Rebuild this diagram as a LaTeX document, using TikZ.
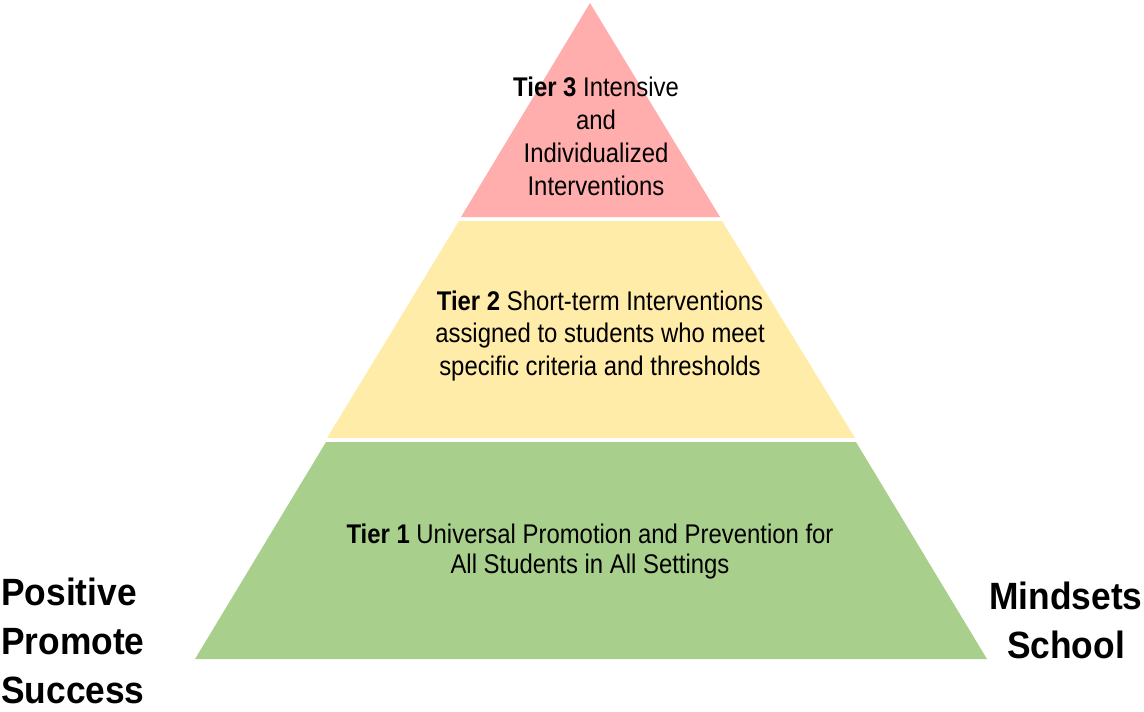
\documentclass[tikz,border=0pt]{standalone}
\usepackage{fontspec}
\setmainfont{Liberation Sans}
\newfontfamily\narrowfont[FakeStretch=0.885]{Liberation Sans}
\newfontfamily\sidefont[FakeStretch=0.93]{Liberation Sans}
\usetikzlibrary{positioning}

\definecolor{tierred}{HTML}{FFADAD}
\definecolor{tieryellow}{HTML}{FFECA9}
\definecolor{tiergreen}{HTML}{A9CF8D}

\tikzset{
  tiertext/.style={inner sep=0pt, align=center, text=black},
  sidetext/.style={inner sep=0pt, font={\sidefont\bfseries\fontsize{38}{49}\selectfont}},
}

\begin{document}
\begin{tikzpicture}[x=1pt,y=-1pt]
\useasboundingbox (0,0) rectangle (1144,712);
% the three tiers
\fill[tierred] (590,3) -- (720,217) -- (461,217) -- cycle;
\fill[tieryellow] (459,221) -- (722,221) -- (855,438) -- (327,438) -- cycle;
\fill[tiergreen] (326,442) -- (856,442) -- (987,659) -- (195,659) -- cycle;

\node[tiertext, font={\narrowfont\fontsize{27}{33}\selectfont}] (tierthree) at (596,136.5)
  {\textbf{Tier 3} Intensive\\and\\Individualized\\Interventions};
\node[tiertext, font={\narrowfont\fontsize{27}{32.5}\selectfont}] (tiertwo) at (600,336)
  {\textbf{Tier 2} Short-term Interventions\\assigned to students who meet\\specific criteria and thresholds};
\node[tiertext, font={\narrowfont\fontsize{27}{30}\selectfont}] (tierone) at (590,551.5)
  {\textbf{Tier 1} Universal Promotion and Prevention for\\All Students in All Settings};

% labels at the sides
\node[sidetext, align=left, anchor=north west] (leftlabel) at (1,578)
  {Positive\\Promote\\Success};
\node[sidetext, align=center, anchor=north] (rightlabel) at (1066,582)
  {Mindsets\\School};
\end{tikzpicture}
\end{document}
